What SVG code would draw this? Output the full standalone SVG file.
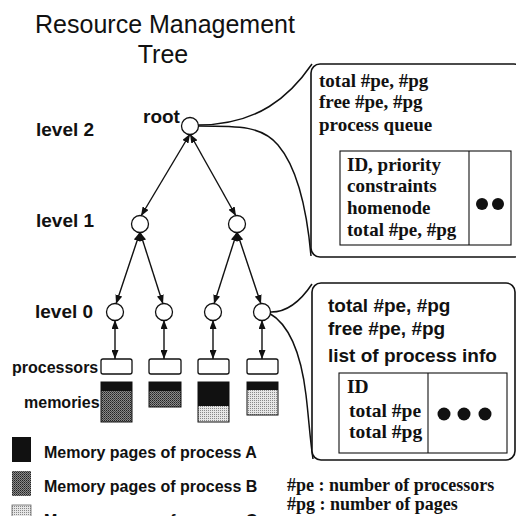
<svg xmlns="http://www.w3.org/2000/svg" width="516" height="516" viewBox="0 0 516 516">
<style>
.sans{font-family:"Liberation Sans",Arial,sans-serif;font-weight:bold;fill:#111}
.title{font-family:"Liberation Sans",Arial,sans-serif;font-size:25px;fill:#111}
.serif{font-family:"Liberation Serif","Times New Roman",serif;font-weight:bold;fill:#111}
.node{fill:#fff;stroke:#111;stroke-width:1.3}
.box{fill:#fff;stroke:#111;stroke-width:1.6}
.inner{fill:none;stroke:#111;stroke-width:1.1}
.arrow{stroke:#111;stroke-width:1.4;fill:none;marker-start:url(#ah);marker-end:url(#ah)}
.curve{stroke:#111;stroke-width:1.5;fill:none}
.mem{stroke:#111;stroke-width:1}
</style>
<defs>
<marker id="ah" markerUnits="userSpaceOnUse" markerWidth="9" markerHeight="7" refX="9" refY="3.5" orient="auto-start-reverse">
<path d="M0,0 L9,3.5 L0,7 z" fill="#111"/>
</marker>
<pattern id="dark" width="2" height="2" patternUnits="userSpaceOnUse">
<rect width="2" height="2" fill="#8a8a8a"/>
<rect width="1" height="1" fill="#222"/>
<rect x="1" y="1" width="1" height="1" fill="#444"/>
</pattern>
<pattern id="light" width="2" height="2" patternUnits="userSpaceOnUse">
<rect width="2" height="2" fill="#e6e6e6"/>
<rect width="1" height="1" fill="#888"/>
</pattern>
</defs>
<rect width="516" height="516" fill="#fff"/>

<g id="title">
<text class="title" x="165" y="33" text-anchor="middle">Resource Management</text>
<text class="title" x="163" y="63" text-anchor="middle">Tree</text>
</g>

<g id="level-labels" class="sans" font-size="19">
<text x="36" y="136">level 2</text>
<text x="36" y="227">level 1</text>
<text x="35" y="318">level 0</text>
</g>

<g id="connectors">
<line class="arrow" x1="190" y1="134" x2="141" y2="216"/>
<line class="arrow" x1="190" y1="134" x2="236" y2="216"/>
<line class="arrow" x1="140" y1="232" x2="116" y2="304"/>
<line class="arrow" x1="140" y1="232" x2="163" y2="304"/>
<line class="arrow" x1="237" y1="232" x2="214" y2="304"/>
<line class="arrow" x1="237" y1="232" x2="261" y2="304"/>
<line class="arrow" x1="115" y1="320" x2="115" y2="359"/>
<line class="arrow" x1="164" y1="320" x2="164" y2="359"/>
<line class="arrow" x1="213" y1="320" x2="213" y2="359"/>
<line class="arrow" x1="262" y1="320" x2="262" y2="359"/>
<path class="curve" d="M198,125 C258,125 290,96 312,64"/>
<path class="curve" d="M198,126 C240,126 262,126 278,145 C295,165 306,200 311,256"/>
<path class="curve" d="M269,312 C285,313 300,302 312,284"/>
<path class="curve" d="M269,313 C285,322 300,345 306,395 C309,420 310,440 313,459"/>
</g>

<g id="root">
<text class="sans" x="143" y="123" font-size="19">root</text>
<circle class="node" cx="190" cy="126" r="8.5"/>
</g>
<g id="l1-a"><circle class="node" cx="140" cy="224" r="8.5"/></g>
<g id="l1-b"><circle class="node" cx="237" cy="224" r="8.5"/></g>
<g id="l0-a"><circle class="node" cx="115" cy="312" r="8.5"/></g>
<g id="l0-b"><circle class="node" cx="164" cy="312" r="8.5"/></g>
<g id="l0-c"><circle class="node" cx="213" cy="312" r="8.5"/></g>
<g id="l0-d"><circle class="node" cx="262" cy="312" r="8.5"/></g>

<g id="processors">
<text class="sans" x="12" y="373" font-size="16">processors</text>
<rect class="node" x="101" y="359" width="31" height="15" rx="2"/>
<rect class="node" x="149" y="359" width="32" height="15" rx="2"/>
<rect class="node" x="198" y="359" width="31" height="15" rx="2"/>
<rect class="node" x="247" y="359" width="31" height="15" rx="2"/>
</g>

<g id="memories">
<text class="sans" x="24" y="408" font-size="16">memories</text>
<rect x="101" y="382" width="31" height="10" fill="#111"/>
<rect x="101" y="391" width="31" height="31" fill="url(#dark)"/>
<rect class="mem" x="101" y="382" width="31" height="40" fill="none"/>
<rect x="149" y="382" width="32" height="10" fill="#111"/>
<rect x="149" y="391" width="32" height="16" fill="url(#dark)"/>
<rect class="mem" x="149" y="382" width="32" height="25" fill="none"/>
<rect x="198" y="382" width="31" height="25" fill="#111"/>
<rect x="198" y="406" width="31" height="16" fill="url(#light)"/>
<rect class="mem" x="198" y="382" width="31" height="40" fill="none"/>
<rect x="247" y="382" width="31" height="9" fill="#111"/>
<rect x="247" y="390" width="31" height="25" fill="url(#light)"/>
<rect class="mem" x="247" y="382" width="31" height="33" fill="none"/>
</g>

<g id="legend">
<rect x="12" y="437" width="19" height="25" fill="#111"/>
<rect x="12" y="471" width="19" height="25" fill="url(#dark)"/>
<rect x="12" y="505" width="19" height="25" fill="url(#light)" stroke="#666" stroke-width="0.8"/>
<text class="sans" x="44" y="458" font-size="16">Memory pages of process A</text>
<text class="sans" x="44" y="492" font-size="16">Memory pages of process B</text>
<text class="sans" x="44" y="526" font-size="16">Memory pages of process C</text>
</g>

<g id="root-info">
<rect class="box" x="311" y="64" width="212" height="193" rx="9"/>
<g class="serif" font-size="19">
<text x="319" y="87">total #pe, #pg</text>
<text x="319" y="108">free #pe, #pg</text>
<text x="319" y="131">process queue</text>
<text x="347" y="171">ID, priority</text>
<text x="347" y="192">constraints</text>
<text x="347" y="214">homenode</text>
<text x="347" y="236">total #pe, #pg</text>
</g>
<rect class="inner" x="340" y="151" width="171" height="94"/>
<line class="inner" x1="469" y1="151" x2="469" y2="245"/>
<circle cx="482" cy="204" r="6" fill="#111"/>
<circle cx="498" cy="204" r="6" fill="#111"/>
</g>

<g id="leaf-info">
<rect class="box" x="312" y="283" width="203" height="177" rx="9"/>
<g class="sans" font-size="19">
<text x="328" y="312">total #pe, #pg</text>
<text x="328" y="335">free #pe, #pg</text>
<text x="328" y="362">list of process info</text>
</g>
<rect class="inner" x="339" y="373" width="168" height="80"/>
<line class="inner" x1="428" y1="373" x2="428" y2="453"/>
<g class="serif" font-size="19.5">
<text x="347" y="393">ID</text>
<text x="349" y="417">total #pe</text>
<text x="349" y="438">total #pg</text>
</g>
<circle cx="444" cy="414" r="6.5" fill="#111"/>
<circle cx="464" cy="414" r="6.5" fill="#111"/>
<circle cx="485" cy="414" r="6.5" fill="#111"/>
</g>

<g id="notes" class="serif" font-size="18">
<text x="287" y="491">#pe : number of processors</text>
<text x="287" y="510">#pg : number of pages</text>
</g>
</svg>
